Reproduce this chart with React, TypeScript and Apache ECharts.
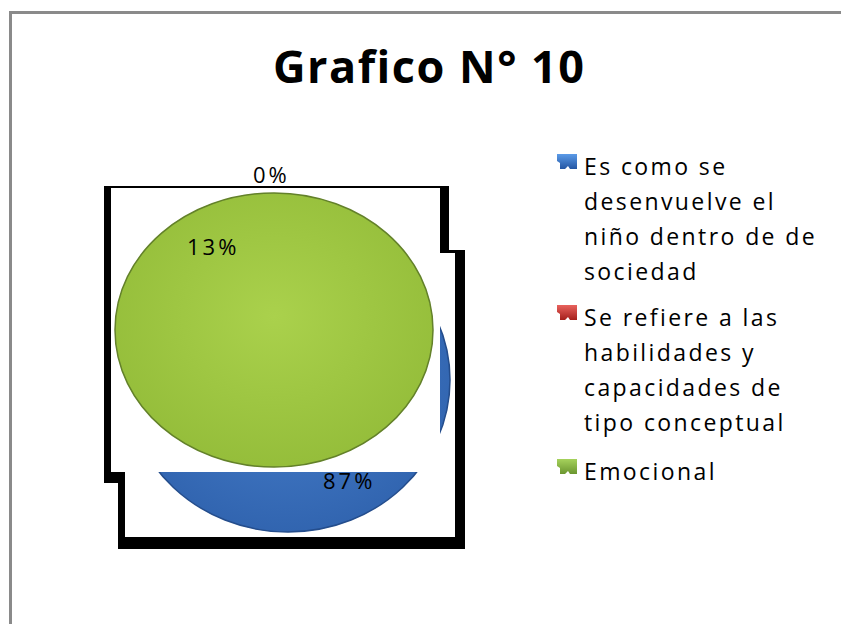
import React, { useEffect, useRef } from "react";
import * as echarts from "echarts";

// ---- data ----
const chartTitle = "Grafico N° 10";
const categories = [
  "Es como se desenvuelve el niño dentro de de sociedad",
  "Se refiere a las habilidades y capacidades de tipo conceptual",
  "Emocional",
];
const legendLines = [
  ["Es como se", "desenvuelve el", "niño dentro de de", "sociedad"],
  ["Se refiere a las", "habilidades y", "capacidades de", "tipo conceptual"],
  ["Emocional"],
];
const values = [87, 0, 13];

// ---- styles / layout ----
const FONT = "'Open Sans', 'Noto Sans', sans-serif";
const total = values.reduce((a, b) => a + b, 0);
const sliceLayout = [
  { ellipse: { cx: 288, cy: 380, rx: 162, ry: 152 }, label: [323, 480], fill: ["#4a82cf", "#2f62ad"], stroke: "#244d8c" },
  { ellipse: null, label: [253, 174], fill: ["#d9534f", "#a82a26"], stroke: "#8a1f1c" },
  { ellipse: { cx: 274, cy: 330, rx: 159, ry: 137 }, label: [187, 246], fill: ["#aad14c", "#93bc39"], stroke: "#63812a", cover: { x: 111, y: 188, width: 329, height: 284 } },
];
const iconColors = [
  ["#5b9be8", "#2456a3"],
  ["#e8625d", "#a51f1b"],
  ["#a6d25c", "#6b9630"],
];
const legendTop = [166, 317, 471];

const CSS = `
#root svg text[style*="23px"] { letter-spacing: 2.4px; }
#root svg text[style*="22px"] { letter-spacing: 3px; }
#root svg text[style*="45px"] { letter-spacing: 1.5px; }
`;

export default function App() {
  const ref = useRef<HTMLDivElement>(null);
  useEffect(() => {
    const chart = echarts.init(ref.current!, null, { renderer: "svg" });

    const series = categories.map((name, i) => ({
      type: "custom",
      name,
      coordinateSystem: "none",
      z: i === 2 ? 3 : 2,
      data: [values[i]],
      renderItem: (params: any, api: any) => {
        const v = api.value(0) as number;
        const L = sliceLayout[i];
        const children: any[] = [];
        if (L.cover) {
          children.push({ type: "rect", z2: 1, shape: L.cover, style: { fill: "#ffffff" } });
        }
        if (L.ellipse && v > 0) {
          children.push({
            type: "ellipse",
            z2: 2,
            shape: L.ellipse,
            style: {
              fill: {
                type: "radial", x: 0.5, y: 0.45, r: 0.6,
                colorStops: [
                  { offset: 0, color: L.fill[0] },
                  { offset: 1, color: L.fill[1] },
                ],
              },
              stroke: L.stroke,
              lineWidth: 1.5,
            },
          });
        }
        children.push({
          type: "text",
          z2: 5,
          x: L.label[0],
          y: L.label[1],
          style: {
            text: Math.round((v / total) * 100) + "%",
            fill: "#000",
            font: `22px ${FONT}`,
            align: "left",
            verticalAlign: "middle",
          },
        });
        return { type: "group", children };
      },
    }));

    const legendGraphics: any[] = [];
    legendLines.forEach((lines, i) => {
      const top = legendTop[i];
      const x0 = 557;
      const y0 = top - 12;
      legendGraphics.push({
        type: "polygon",
        shape: {
          points: [
            [x0, y0], [x0 + 20, y0], [x0 + 20, y0 + 15], [x0 + 13, y0 + 15],
            [x0 + 11, y0 + 12], [x0 + 8, y0 + 15], [x0 + 3, y0 + 15],
            [x0 + 3, y0 + 9], [x0, y0 + 7],
          ],
        },
        style: {
          fill: {
            type: "linear", x: 0, y: 0, x2: 0, y2: 1,
            colorStops: [
              { offset: 0, color: iconColors[i][0] },
              { offset: 1, color: iconColors[i][1] },
            ],
          },
        },
      });
      legendGraphics.push({
        type: "text",
        x: 584,
        y: top - 17.5,
        style: {
          text: lines.join("\n"),
          font: `23px ${FONT}`,
          lineHeight: 35,
          fill: "#000",
          verticalAlign: "top",
          align: "left",
        },
      });
    });

    chart.setOption({
      animation: false,
      backgroundColor: "#ffffff",
      graphic: [
        // outer gray border
        { type: "rect", shape: { x: 9, y: 11, width: 832, height: 3 }, style: { fill: "#8a8a8a" } },
        { type: "rect", shape: { x: 9, y: 11, width: 3, height: 613 }, style: { fill: "#8a8a8a" } },
        // black frames behind the pie
        { type: "rect", shape: { x: 104, y: 186, width: 345, height: 297 }, style: { fill: "#000" } },
        { type: "rect", shape: { x: 118, y: 250, width: 347, height: 299 }, style: { fill: "#000" } },
        { type: "rect", shape: { x: 125, y: 253, width: 330, height: 284 }, style: { fill: "#fff" } },
        // title
        {
          type: "text",
          x: 273,
          y: 65,
          style: {
            text: chartTitle,
            font: `bold 45px ${FONT}`,
            fill: "#000",
            align: "left",
            verticalAlign: "middle",
          },
        },
        ...legendGraphics,
      ],
      series,
    });
    return () => chart.dispose();
  }, []);
  return (
    <>
      <style>{CSS}</style>
      <div
        ref={ref}
        style={{ position: "fixed", left: 0, top: 0, width: 841, height: 624, background: "#fff" }}
      />
    </>
  );
}
